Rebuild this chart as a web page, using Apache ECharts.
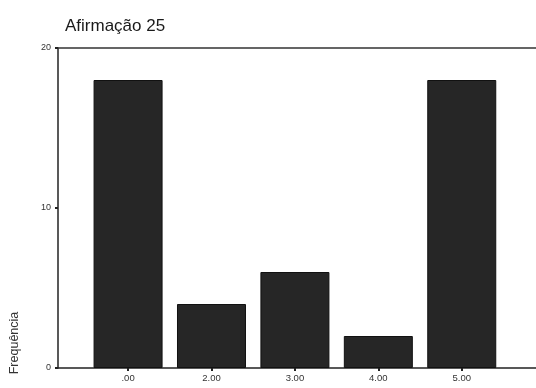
<!DOCTYPE html>
<html>
<head>
<meta charset="utf-8">
<script src="https://cdn.jsdelivr.net/npm/echarts@6/dist/echarts.min.js"></script>
<style>
html, body { margin: 0; padding: 0; background: #fff; }
#chart { width: 536px; height: 388px; }
</style>
</head>
<body>
<div id="chart"></div>
<script>
// Response categories and their frequencies
const categories = ['.00', '2.00', '3.00', '4.00', '5.00'];
const frequencies = [18, 4, 6, 2, 18];
const yTicks = [0, 10, 20];

const chart = echarts.init(document.getElementById('chart'), null, { renderer: 'canvas' });

const fontFamily = '"Liberation Sans", Arial, sans-serif';
const positions = categories.map((_, i) => i);

chart.setOption({
  animation: false,
  backgroundColor: '#ffffff',
  title: {
    text: 'Afirmação 25',
    left: 60,
    top: 13,
    textStyle: { fontFamily, fontSize: 17, fontWeight: 'normal', color: '#1a1a1a' }
  },
  grid: { left: 58, top: 48, right: -1, bottom: 20 },
  xAxis: [
    {
      type: 'value',
      min: -0.84,
      max: 4.89,
      splitLine: { show: false },
      axisLine: { show: true, onZero: false, lineStyle: { color: '#222', width: 1.5 } },
      axisTick: { show: true, customValues: positions, length: 3, inside: false, lineStyle: { color: '#222', width: 2 } },
      axisLabel: {
        customValues: positions,
        formatter: v => categories[Math.round(v)],
        fontFamily, fontSize: 9.5, color: '#333', margin: 5
      }
    },
    {
      type: 'value',
      position: 'top',
      min: -0.84,
      max: 4.89,
      splitLine: { show: false },
      axisLine: { show: true, onZero: false, lineStyle: { color: '#333', width: 1.5 } },
      axisTick: { show: false },
      axisLabel: { show: false }
    }
  ],
  yAxis: {
    type: 'value',
    min: 0,
    max: 20,
    interval: 10,
    name: 'Frequência',
    nameLocation: 'middle',
    nameRotate: 90,
    nameGap: 37,
    nameTextStyle: { fontFamily, fontSize: 12.5, color: '#333', padding: [0, 270, 0, 0] },
    splitLine: { show: false },
    axisLine: { show: true, onZero: false, lineStyle: { color: '#222', width: 1.5 } },
    axisTick: { show: true, length: 3, lineStyle: { color: '#222', width: 2 } },
    axisLabel: {
      fontFamily, fontSize: 9, color: '#333', margin: 7,
      formatter: v => (yTicks.includes(v) ? String(v) : '')
    }
  },
  series: [{
    type: 'bar',
    xAxisIndex: 0,
    barWidth: 69,
    data: frequencies.map((f, i) => [positions[i], f]),
    itemStyle: { color: '#262626', borderColor: '#111', borderWidth: 1 }
  }]
});
</script>
</body>
</html>
